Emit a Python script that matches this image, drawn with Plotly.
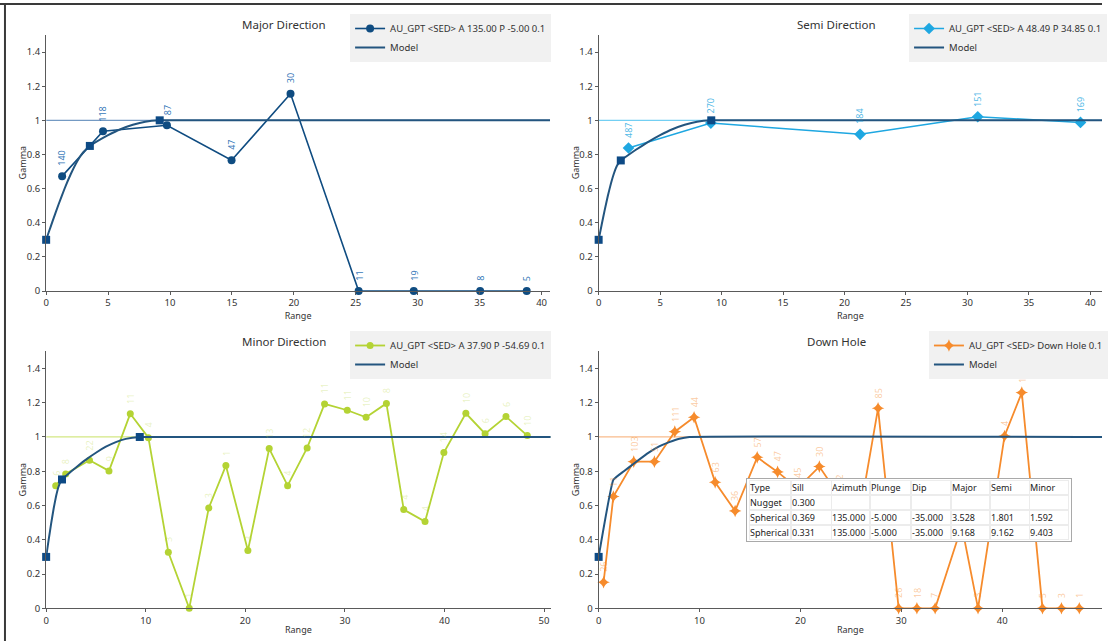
import plotly.graph_objects as go

W, H = 1108, 641

# ---------------- data ----------------
# Major direction experimental variogram
MAJOR_LAG = [1.29, 4.59, 9.75, 14.97, 19.73, 25.23, 29.68, 35.04, 38.80]
MAJOR_GAMMA = [0.673, 0.936, 0.971, 0.766, 1.156, 0.0, 0.0, 0.0, 0.0]
MAJOR_PAIRS = [140, 118, 87, 47, 30, 11, 19, 8, 5]
MAJOR_MODEL_LAG = [0, 0.25, 0.5, 1, 1.5, 2, 2.5, 3, 3.528, 4, 5, 6, 7, 8, 9.168, 41]
MAJOR_MODEL_GAMMA = [0.30, 0.353, 0.405, 0.507, 0.602, 0.687, 0.759, 0.814, 0.850, 0.872,
                     0.913, 0.948, 0.974, 0.992, 1.0, 1.0]
MAJOR_STRUCT_LAG = [0, 3.528, 9.168]
MAJOR_STRUCT_GAMMA = [0.30, 0.850, 1.0]

# Semi direction
SEMI_LAG = [2.43, 9.13, 21.27, 30.84, 39.20]
SEMI_GAMMA = [0.838, 0.984, 0.918, 1.021, 0.988]
SEMI_PAIRS = [487, 270, 184, 151, 169]
SEMI_MODEL_LAG = [0, 0.25, 0.5, 0.75, 1, 1.25, 1.5, 1.801, 2.5, 3, 4, 5, 6, 7, 8, 9.162, 41]
SEMI_MODEL_GAMMA = [0.30, 0.390, 0.477, 0.558, 0.630, 0.690, 0.735, 0.765, 0.801, 0.826,
                    0.872, 0.913, 0.948, 0.974, 0.992, 1.0, 1.0]
SEMI_STRUCT_LAG = [0, 1.801, 9.162]
SEMI_STRUCT_GAMMA = [0.30, 0.765, 1.0]

# Minor direction
MINOR_LAG = [0.96, 1.96, 4.35, 6.31, 8.45, 10.27, 12.27, 14.37, 16.33, 18.05, 20.26, 22.40,
             24.25, 26.21, 27.96, 30.24, 32.13, 34.17, 35.91, 38.05, 39.94, 42.15, 44.08,
             46.18, 48.32]
MINOR_GAMMA = [0.716, 0.784, 0.864, 0.802, 1.136, 0.996, 0.327, 0.0, 0.586, 0.833, 0.337,
               0.932, 0.716, 0.936, 1.193, 1.156, 1.115, 1.196, 0.576, 0.506, 0.909, 1.138,
               1.019, 1.119, 1.008]
MINOR_PAIRS = [6, 8, 22, 9, 11, 4, 3, 1, 3, 1, 3, 13, 4, 12, 11, 11, 10, 8, 4, 4, 14, 10,
               6, 6, 10]
MINOR_MODEL_LAG = [0, 0.25, 0.5, 0.75, 1, 1.25, 1.592, 2.5, 3, 4, 5, 6, 7, 8, 9.403, 51]
MINOR_MODEL_GAMMA = [0.30, 0.399, 0.494, 0.581, 0.655, 0.711, 0.752, 0.798, 0.822, 0.868,
                     0.908, 0.943, 0.970, 0.989, 1.0, 1.0]
MINOR_STRUCT_LAG = [0, 1.592, 9.403]
MINOR_STRUCT_GAMMA = [0.30, 0.752, 1.0]

# Down hole
DH_LAG = [0.49, 1.46, 3.48, 5.53, 7.55, 9.46, 11.55, 13.53, 15.72, 17.74, 19.72, 21.88,
          23.80, 25.70, 27.70, 29.74, 31.55, 33.36, 36.00, 37.61, 40.24, 41.95, 44.00,
          45.88, 47.65]
DH_GAMMA = [0.152, 0.652, 0.856, 0.856, 1.031, 1.115, 0.735, 0.568, 0.881, 0.796, 0.70,
            0.827, 0.66, 0.49, 1.167, 0.0, 0.0, 0.0, 0.48, 0.0, 1.006, 1.259, 0.0, 0.0, 0.0]
DH_PAIRS = [26, 11, 103, 51, 111, 44, 63, 36, 57, 47, 45, 30, 22, 18, 85, 26, 18, 7, 5, 3,
            4, 1, 5, 3, 1]
DH_MODEL_LAG = [0, 1.46, 2.5, 3.5, 5, 6, 7, 8, 9, 51]
DH_MODEL_GAMMA = [0.30, 0.75, 0.80, 0.845, 0.91, 0.945, 0.97, 0.99, 1.0, 1.0]
DH_STRUCT_LAG = [0]
DH_STRUCT_GAMMA = [0.30]

# Model table
TABLE_HEADER = ["Type", "Sill", "Azimuth", "Plunge", "Dip", "Major", "Semi", "Minor"]
STRUCT_TYPE = ["Nugget", "Spherical", "Spherical"]
STRUCT_SILL = [0.300, 0.369, 0.331]
STRUCT_AZIMUTH = [None, 135.0, 135.0]
STRUCT_PLUNGE = [None, -5.0, -5.0]
STRUCT_DIP = [None, -35.0, -35.0]
STRUCT_MAJOR = [None, 3.528, 9.168]
STRUCT_SEMI = [None, 1.801, 9.162]
STRUCT_MINOR = [None, 1.592, 9.403]

TOTAL_SILL = sum(STRUCT_SILL)

# ---------------- styling ----------------
FONT = "Noto Sans"
MODEL_COLOR = "#23557f"
AXIS_COLOR = "#5a5a5a"
TEXT_COLOR = "#333333"


def px_x(p):
    return p / W


def px_y(p):
    return 1 - p / H


panels = [
    dict(name="AU_GPT &lt;SED&gt; A 135.00 P -5.00 0.1", title="Major Direction",
         lag=MAJOR_LAG, gamma=MAJOR_GAMMA, pairs=MAJOR_PAIRS,
         mlag=MAJOR_MODEL_LAG, mgamma=MAJOR_MODEL_GAMMA,
         slag=MAJOR_STRUCT_LAG, sgamma=MAJOR_STRUCT_GAMMA,
         color="#0f4c81", sillcolor="rgba(70,120,175,0.75)", labelcolor="rgba(40,110,180,0.95)",
         symbol="circle", msize=8, lw=1.6,
         dom_x=[px_x(46.4), px_x(553)], dom_y=[px_y(291), px_y(35)], xmax=40.68,
         xdtick=5, legend_px=(352, 14), title_px=(285.7, 24), gamma_px=(22.5, 163)),
    dict(name="AU_GPT &lt;SED&gt; A 48.49 P 34.85 0.1", title="Semi Direction",
         lag=SEMI_LAG, gamma=SEMI_GAMMA, pairs=SEMI_PAIRS,
         mlag=SEMI_MODEL_LAG, mgamma=SEMI_MODEL_GAMMA,
         slag=SEMI_STRUCT_LAG, sgamma=SEMI_STRUCT_GAMMA,
         color="#1ea7e1", sillcolor="rgba(80,195,240,0.8)", labelcolor="rgba(30,167,225,0.8)",
         symbol="diamond", msize=9, lw=1.5,
         dom_x=[px_x(601.9), 1.0], dom_y=[px_y(291), px_y(35)], xmax=40.95,
         xdtick=5, legend_px=(914, 14), title_px=(841.4, 24), gamma_px=(578.5, 163)),
    dict(name="AU_GPT &lt;SED&gt; A 37.90 P -54.69 0.1", title="Minor Direction",
         lag=MINOR_LAG, gamma=MINOR_GAMMA, pairs=MINOR_PAIRS,
         mlag=MINOR_MODEL_LAG, mgamma=MINOR_MODEL_GAMMA,
         slag=MINOR_STRUCT_LAG, sgamma=MINOR_STRUCT_GAMMA,
         color="#b4d334", sillcolor="rgba(200,225,100,0.8)", labelcolor="rgba(180,211,52,0.3)",
         symbol="circle", msize=7, lw=1.8,
         dom_x=[px_x(46.4), px_x(553.6)], dom_y=[px_y(608.3), px_y(351.3)], xmax=50.66,
         xdtick=10, legend_px=(352, 331), title_px=(285.7, 341.7), gamma_px=(22.5, 480)),
    dict(name="AU_GPT &lt;SED&gt; Down Hole 0.1", title="Down Hole",
         lag=DH_LAG, gamma=DH_GAMMA, pairs=DH_PAIRS,
         mlag=DH_MODEL_LAG, mgamma=DH_MODEL_GAMMA,
         slag=DH_STRUCT_LAG, sgamma=DH_STRUCT_GAMMA,
         color="#f68b2c", sillcolor="rgba(248,170,110,0.8)", labelcolor="rgba(246,139,44,0.45)",
         symbol="star-diamond", msize=9, lw=1.8,
         dom_x=[px_x(601.9), 1.0], dom_y=[px_y(608.3), px_y(351.3)], xmax=49.9,
         xdtick=10, legend_px=(934, 331), title_px=(841.4, 341.7), gamma_px=(578.5, 480)),
]

fig = go.Figure()
annotations = []
shapes = []
layout = {}

for i, p in enumerate(panels):
    k = "" if i == 0 else str(i + 1)
    xa, ya = "x" + k, "y" + k
    leg = "legend" if i == 0 else "legend" + str(i + 1)

    # sill reference line
    fig.add_trace(go.Scatter(
        x=[0, p["xmax"]], y=[TOTAL_SILL, TOTAL_SILL], mode="lines",
        line=dict(color=p["sillcolor"], width=1.3), xaxis=xa, yaxis=ya,
        showlegend=False, hoverinfo="skip"))
    # experimental
    fig.add_trace(go.Scatter(
        x=p["lag"], y=p["gamma"], mode="lines+markers", name=p["name"],
        line=dict(color=p["color"], width=p["lw"]),
        marker=dict(color=p["color"], size=p["msize"], symbol=p["symbol"]),
        xaxis=xa, yaxis=ya, legend=leg, cliponaxis=False))
    # model
    fig.add_trace(go.Scatter(
        x=p["mlag"], y=p["mgamma"], mode="lines", name="Model",
        line=dict(color=MODEL_COLOR, width=2, shape="spline", smoothing=0.3),
        xaxis=xa, yaxis=ya, legend=leg))
    fig.add_trace(go.Scatter(
        x=p["slag"], y=p["sgamma"], mode="markers",
        marker=dict(color="#0d4a85", size=8, symbol="square"),
        xaxis=xa, yaxis=ya, showlegend=False, cliponaxis=False))

    for lx, ly, n in zip(p["lag"], p["gamma"], p["pairs"]):
        annotations.append(dict(
            x=lx, y=ly, xref=xa, yref=ya, text=str(n), showarrow=False,
            textangle=-90, yanchor="bottom", yshift=8,
            font=dict(family=FONT, size=9, color=p["labelcolor"])))

    annotations.append(dict(
        x=px_x(p["title_px"][0]), y=px_y(p["title_px"][1]), xref="paper", yref="paper",
        text=p["title"], showarrow=False, xanchor="center", yanchor="middle",
        font=dict(family=FONT, size=11.5, color=TEXT_COLOR)))
    annotations.append(dict(
        x=px_x(p["gamma_px"][0]), y=px_y(p["gamma_px"][1]), xref="paper", yref="paper",
        text="Gamma", showarrow=False, textangle=-90, xanchor="center", yanchor="middle",
        font=dict(family=FONT, size=9, color=TEXT_COLOR)))

    axis_common = dict(showline=True, linecolor=AXIS_COLOR, linewidth=1, ticks="outside",
                       ticklen=3, tickcolor=AXIS_COLOR, showgrid=False, zeroline=False,
                       automargin=False,
                       tickfont=dict(family=FONT, size=9.5, color=TEXT_COLOR))
    layout["xaxis" + k] = dict(axis_common, domain=p["dom_x"], range=[0, p["xmax"]],
                               dtick=p["xdtick"], tick0=0, anchor=ya,
                               title=dict(text="Range", standoff=0,
                                          font=dict(family=FONT, size=9, color=TEXT_COLOR)))
    layout["yaxis" + k] = dict(axis_common, domain=p["dom_y"], range=[0, 1.5], dtick=0.2,
                               tick0=0, anchor=xa)
    layout[leg] = dict(x=px_x(p["legend_px"][0]), y=px_y(p["legend_px"][1]),
                       xanchor="left", yanchor="top", bgcolor="rgba(238,238,238,0.85)",
                       borderwidth=0, itemwidth=30, tracegroupgap=0,
                       font=dict(family=FONT, size=9.5, color=TEXT_COLOR))

# ---------------- model parameter table (drawn over the Down Hole panel) ----------------
def fmt(v):
    return "" if v is None else f"{v:.3f}"


table_cols = [STRUCT_TYPE, [fmt(v) for v in STRUCT_SILL], [fmt(v) for v in STRUCT_AZIMUTH],
              [fmt(v) for v in STRUCT_PLUNGE], [fmt(v) for v in STRUCT_DIP],
              [fmt(v) for v in STRUCT_MAJOR], [fmt(v) for v in STRUCT_SEMI],
              [fmt(v) for v in STRUCT_MINOR]]
COL_EDGES = [753, 795, 836, 875, 916, 956, 995, 1035, 1075]
ROW_TOP, ROW_H = 479.5, 15
# outer frame / background
annotations.append(dict(
    x=px_x((COL_EDGES[0] + COL_EDGES[-1]) / 2), y=px_y(ROW_TOP + 2 * ROW_H),
    xref="paper", yref="paper", text=" ", showarrow=False, xanchor="center",
    yanchor="middle", width=COL_EDGES[-1] - COL_EDGES[0] + 2, height=4 * ROW_H + 2,
    bgcolor="white", bordercolor="#a9a9a9", borderwidth=1, borderpad=0))
for c in range(len(TABLE_HEADER)):
    column = [TABLE_HEADER[c]] + list(table_cols[c])
    for r, txt in enumerate(column):
        annotations.append(dict(
            x=px_x(COL_EDGES[c]), y=px_y(ROW_TOP + ROW_H * (r + 0.5)),
            xref="paper", yref="paper", text=txt if txt else " ", showarrow=False,
            xanchor="left", yanchor="middle", align="left",
            width=COL_EDGES[c + 1] - COL_EDGES[c] - 2, height=ROW_H - 2,
            bgcolor="white", bordercolor="#ececec", borderwidth=1, borderpad=0,
            font=dict(family=FONT, size=9, color="#222222")))

# window frame
shapes.append(dict(type="line", xref="paper", yref="paper", x0=0, x1=1, y0=px_y(4),
                   y1=px_y(4), line=dict(color="#3a3a3a", width=2)))
shapes.append(dict(type="line", xref="paper", yref="paper", x0=px_x(5), x1=px_x(5),
                   y0=0, y1=px_y(4), line=dict(color="#3a3a3a", width=2)))

fig.update_layout(
    width=W, height=H, margin=dict(l=0, r=0, t=0, b=0),
    paper_bgcolor="white", plot_bgcolor="white", hovermode=False,
    font=dict(family=FONT, size=10, color=TEXT_COLOR),
    annotations=annotations, shapes=shapes, **layout)

fig.write_html("out.html", config={"displayModeBar": False},
               post_script="document.body.style.margin='0';document.body.style.overflow='hidden';")
